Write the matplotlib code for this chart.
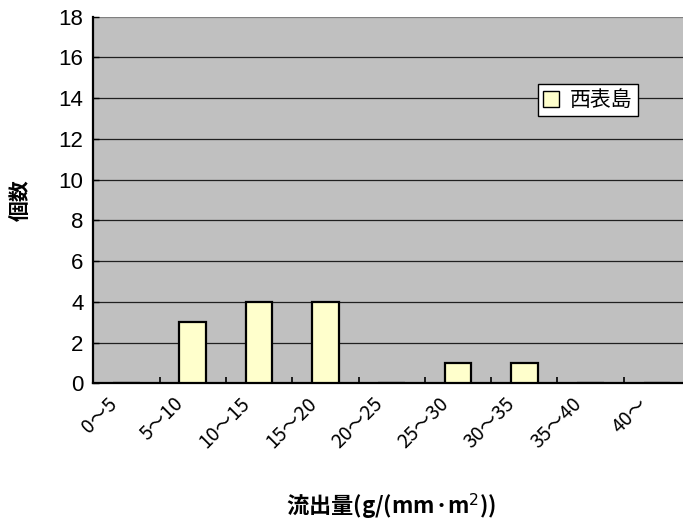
import matplotlib
matplotlib.use("Agg")
import matplotlib.pyplot as plt
from matplotlib.transforms import ScaledTranslation
from matplotlib.patches import Patch

# 流出量の階級ごとの個数（西表島）
categories = ["0～5", "5～10", "10～15", "15～20", "20～25", "25～30", "30～35", "35～40", "40～"]
counts = [0, 3, 4, 4, 0, 1, 1, 0, 0]
series_name = "西表島"
yticks = [0, 2, 4, 6, 8, 10, 12, 14, 16, 18]

plt.rcParams["font.family"] = ["Liberation Sans", "Noto Sans CJK JP", "DejaVu Sans"]
jp = ["Noto Sans CJK JP", "DejaVu Sans"]

fig = plt.figure(figsize=(6.83, 5.28), dpi=100)
ax = fig.add_axes([0.1366, 0.2737, 0.8737, 0.695])
ax.set_facecolor("#C0C0C0")

x = list(range(len(categories)))
ax.bar(x, counts, width=0.4, color="#FFFFCC", edgecolor="black", linewidth=1.6, zorder=3)

ax.set_xlim(-0.5, len(categories) - 0.5)
ax.set_ylim(0, 18)
ax.set_yticks(yticks)
ax.set_yticklabels([str(v) for v in yticks], fontsize=16)
ax.yaxis.grid(True, color="#202020", linewidth=0.9, zorder=1)
ax.yaxis.get_gridlines()[-1].set_color("#808080")

# 階級の境目に目盛り
ax.set_xticks([i + 0.5 for i in x[:-1]], minor=True)
ax.tick_params(axis="x", which="minor", direction="in", length=4, width=1.2, color="black")
ax.tick_params(axis="x", which="major", length=0, pad=6)
ax.tick_params(axis="y", direction="in", length=4, width=1.0, pad=7)

ax.set_xticks(x)
ax.set_xticklabels(categories, rotation=45, ha="right", rotation_mode="anchor",
                   fontsize=14, family=jp)
for lbl in ax.get_xticklabels():
    lbl.set_transform(lbl.get_transform() + ScaledTranslation(-14 / 72, -1 / 72, fig.dpi_scale_trans))

for side in ["top", "right"]:
    ax.spines[side].set_visible(False)
ax.spines["left"].set_linewidth(1.6)
ax.spines["bottom"].set_linewidth(1.6)

ax.set_xlabel("流出量(g/(mm·m$^2$))", fontsize=16, fontweight="bold", family=jp, labelpad=28)
ax.set_ylabel("個数", fontsize=15, fontweight="bold", family=jp, labelpad=20)

handle = Patch(facecolor="#FFFFCC", edgecolor="black", linewidth=1.0)
leg = ax.legend([handle], [series_name], loc="upper left", bbox_to_anchor=(0.727, 0.845),
                frameon=True, fancybox=False, framealpha=1, edgecolor="black",
                handlelength=0.8, handleheight=0.8, handletextpad=0.5,
                borderpad=0.25, prop={"family": jp, "size": 15})
leg.get_frame().set_linewidth(1.0)

fig.savefig("out.png", dpi=100)
